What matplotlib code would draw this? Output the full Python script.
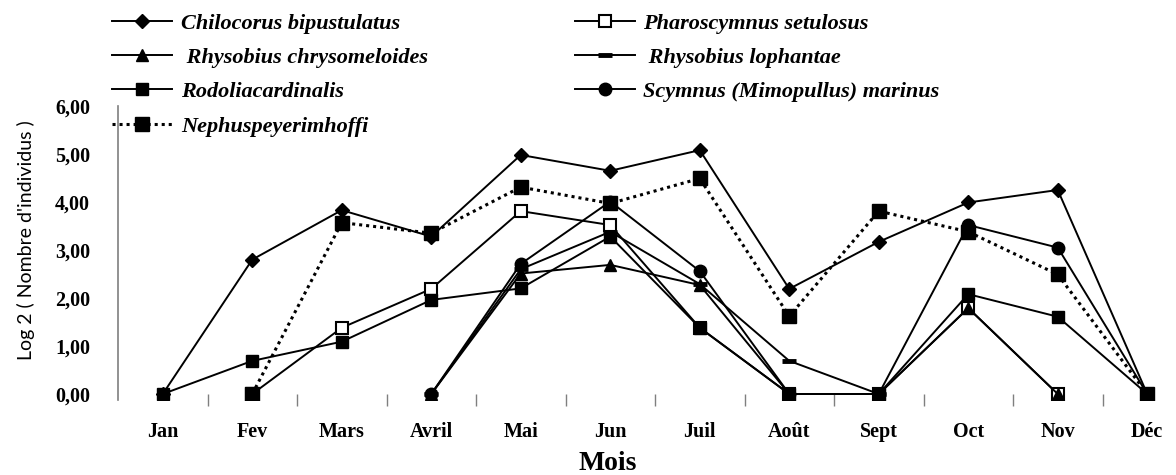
import numpy as np
import matplotlib.pyplot as plt

nan = np.nan

mois = ['Jan', 'Fev', 'Mars', 'Avril', 'Mai', 'Jun', 'Juil', 'Août', 'Sept', 'Oct', 'Nov', 'Déc']

chilocorus = [0, 2.80, 3.83, 3.28, 4.98, 4.65, 5.08, 2.19, 3.17, 3.99, 4.25, 0]
pharoscymnus = [nan, 0, 1.38, 2.19, 3.81, 3.52, 1.38, 0, 0, 1.79, 0, nan]
chrysomeloides = [nan, nan, nan, 0, 2.51, 2.69, 2.27, 0, 0, 1.79, 0, nan]
lophantae = [nan, nan, nan, 0, 2.60, 3.38, 2.29, 0.69, 0, nan, nan, nan]
rodolia = [0, 0.69, 1.09, 1.96, 2.20, 3.28, 1.38, 0, 0, 2.08, 1.61, 0]
scymnus = [nan, nan, nan, 0, 2.71, 4.01, 2.56, 0, 0, 3.52, 3.05, 0]
nephus = [nan, 0, 3.57, 3.35, 4.31, 3.97, 4.49, 1.62, 3.81, 3.38, 2.49, 0]

fig = plt.figure(figsize=(11.76, 4.75), dpi=100)
ax = fig.add_axes([118 / 1176, 75 / 475, 1074 / 1176, 294 / 475])

x = np.arange(len(mois))
lw = 1.4
h_chil, = ax.plot(x, chilocorus, color='black', lw=lw, marker='D', ms=7,
                  label='Chilocorus bipustulatus')
h_phar, = ax.plot(x, pharoscymnus, color='black', lw=lw, marker='s', ms=9,
                  mfc='white', mec='black', mew=1.5, label='Pharoscymnus setulosus')
h_chry, = ax.plot(x, chrysomeloides, color='black', lw=lw, marker='^', ms=8,
                  label=' Rhysobius chrysomeloides')
h_loph, = ax.plot(x, lophantae, color='black', lw=lw, marker='_', ms=10, mew=3.5,
                  label=' Rhysobius lophantae')
h_rodo, = ax.plot(x, rodolia, color='black', lw=lw, marker='s', ms=9,
                  label='Rodoliacardinalis')
h_scym, = ax.plot(x, scymnus, color='black', lw=lw, marker='o', ms=9,
                  label='Scymnus (Mimopullus) marinus')
h_neph, = ax.plot(x, nephus, color='black', lw=2.2, ls=(0, (1, 1.3)), marker='s', ms=10,
                  label='Nephuspeyerimhoffi')

ax.set_xlim(-0.5, len(mois) - 0.5)
ax.set_ylim(-0.125, 6)

# axes frame: only a grey y axis, x ticks between the months
for side in ['top', 'right', 'bottom']:
    ax.spines[side].set_visible(False)
ax.spines['left'].set_color('#7f7f7f')
ax.spines['left'].set_linewidth(1.2)

serif_bold = {'family': 'Liberation Serif', 'weight': 'bold'}
ax.set_xticks(x)
ax.set_xticklabels(mois, fontdict=serif_bold, fontsize=14.5)
ax.set_xticks(np.arange(0.5, len(mois) - 1, 1), minor=True)
ax.tick_params(axis='x', which='major', length=0, pad=16)
ax.tick_params(axis='x', which='minor', length=8, width=1, color='#7f7f7f', direction='inout')

ax.set_yticks(np.arange(0, 7, 1))
ax.set_yticklabels(['%d,00' % v for v in range(7)], fontdict=serif_bold, fontsize=14.5)
ax.set_yticks([1, 3, 5], minor=True)
ax.tick_params(axis='y', which='major', length=0, pad=20)
ax.tick_params(axis='y', which='minor', length=8, width=1.2, color='#7f7f7f', direction='out')

ax.set_ylabel("Log 2 ( Nombre d'individus )", family='Lato', fontsize=14)
ax.yaxis.set_label_coords(-0.077, 0.545)
fig.text(608 / 1176, 1 - 463 / 475, 'Mois', ha='center', va='center',
         family='Liberation Serif', weight='bold', fontsize=20)

handles = [h_chil, h_chry, h_rodo, h_neph, h_phar, h_loph, h_scym]
leg = fig.legend(handles=handles, labels=[h.get_label() for h in handles],
                 loc='upper left', bbox_to_anchor=(112 / 1176, 1 - 13 / 475),
                 ncol=2, frameon=False, borderpad=0, borderaxespad=0,
                 handlelength=2.7, handletextpad=0.4, labelspacing=0.62,
                 columnspacing=6.6,
                 prop={'family': 'Liberation Serif', 'weight': 'bold',
                       'style': 'italic', 'size': 16})

fig.savefig('out.png', dpi=100)
